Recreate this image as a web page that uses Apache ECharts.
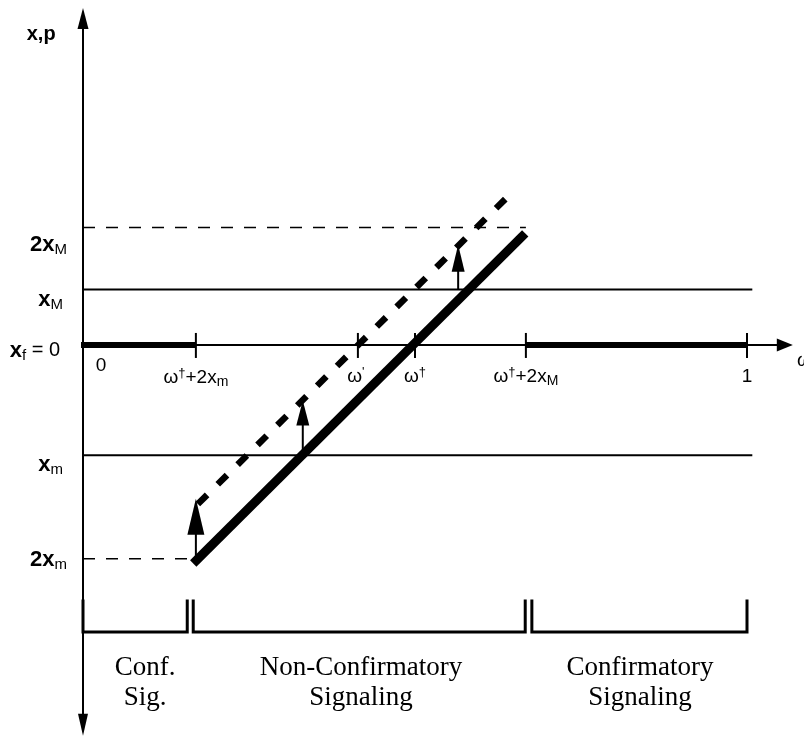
<!DOCTYPE html>
<html><head><meta charset="utf-8">
<script src="https://cdn.jsdelivr.net/npm/echarts@6/dist/echarts.min.js"></script>
<style>html,body{margin:0;padding:0;background:#fff}#c{width:804px;height:741px}</style>
</head><body><div id="c"></div>
<script>
// ---------------- data (schematic units: omega on [0,1], x/p in same units) ----------------
const omegaTicks = [0, 0.170, 0.414, 0.5, 0.667, 1];
const omegaTickLabels = ['{w|0}', '{w|ω}{sup|†}{w|+2x}{sub|m}', "{w|ω}{sup|'}", '{w|ω}{sup|†}', '{w|ω}{sup|†}{w|+2x}{sub|M}', '{w|1}'];
const tickMarks = [0.170, 0.414, 0.5, 0.667, 1];
const levelValues = [0.178, 0.084, 0, -0.167, -0.324];
const levelLabels = ['{b|2x}{s|M}', '{b|x}{s|M}', '{b|x}{s|f}{n| = 0}', '{b|x}{s|m}', '{b|2x}{s|m}'];
const solidLevels = [[0.084, 0, 1.008], [-0.167, 0, 1.008]];      // [level, from, to]
const dashedLevels = [[0.178, 0, 0.667], [-0.324, 0, 0.168]];     // [level, from, to]
const boldAxisSegments = [[-0.003, 0.170], [0.667, 1.0]];
const solidSchedule = [[0.166, -0.331], [0.666, 0.169]];
const shiftedSchedule = [[0.173, -0.241], [0.651, 0.236]];
const shiftArrows = [[0.170, -0.324, -0.233], [0.331, -0.167, -0.084], [0.565, 0.084, 0.152]]; // [omega, from, to]
const axisArrows = [[0, 0, 0, 0.5105], [0, 0, 0, -0.592], [-0.003, 0, 1.069, 0]];
const regimeBounds = [[0, 0.157], [0.166, 0.666], [0.676, 1.0]];
const bracketTop = -0.3855, bracketBottom = -0.435;
const regimeLabels = ['Conf.\nSig.', 'Non-Confirmatory\nSignaling', 'Confirmatory\nSignaling'];
const regimeLabelX = [0.0934, 0.4187, 0.839];
const regimeLabelY = -0.512;
const axisTitleY = 'x,p', axisTitleYPos = [-0.063, 0.471];
const axisTitleX = 'ω', axisTitleXPos = [1.0753, -0.024];

// ---------------- layout / style ----------------
const PX = 664, X0 = 83, Y0 = 347;
const XMIN = 0, XMAX = 1.08, YMIN = -0.6, YMAX = 0.52;
const SANS = '"Liberation Sans", Arial, sans-serif';
const SERIF = '"Liberation Serif", "Times New Roman", serif';
const LEVEL_OFF = [[-16, 17], [-20, 10], [-23, 6], [-20, 10], [-16, 1]];
const TICK_LABEL_OFF = [[18, 21], [0, 33], [-2, 32], [0, 32], [0, 32], [0, 32]];
const SHIFT_HEAD = [[36, 17], [25, 13], [27, 13]];
const AXIS_HEAD = [[21, 11], [22, 10], [16, 13]];

const richTick = {
  w: {fontFamily: SANS, fontSize: 19, fill: '#000', lineHeight: 23},
  sup: {fontFamily: SANS, fontSize: 13, fill: '#000', verticalAlign: 'top', lineHeight: 12},
  sub: {fontFamily: SANS, fontSize: 14, fill: '#000', verticalAlign: 'bottom', lineHeight: 12}
};
const richLevel = {
  b: {fontFamily: SANS, fontSize: 22, fontWeight: 'bold', fill: '#000', lineHeight: 25},
  n: {fontFamily: SANS, fontSize: 20, fill: '#000', lineHeight: 25},
  s: {fontFamily: SANS, fontSize: 15, fill: '#000', verticalAlign: 'bottom', lineHeight: 13}
};

function segSeries(segs, style, z) {
  return {
    type: 'custom', coordinateSystem: 'cartesian2d', silent: true, z: z,
    data: segs,
    renderItem: function (params, api) {
      const p0 = api.coord([api.value(0), api.value(1)]);
      const p1 = api.coord([api.value(2), api.value(3)]);
      return {type: 'line', shape: {x1: p0[0], y1: p0[1], x2: p1[0], y2: p1[1]},
        style: Object.assign({stroke: '#000', fill: null}, style)};
    }
  };
}
function arrowSeries(arrs, heads, lw, z) {
  return {
    type: 'custom', coordinateSystem: 'cartesian2d', silent: true, z: z,
    data: arrs,
    renderItem: function (params, api) {
      const p0 = api.coord([api.value(0), api.value(1)]);
      const p1 = api.coord([api.value(2), api.value(3)]);
      const hl = heads[params.dataIndex][0], hw = heads[params.dataIndex][1];
      const dx = p1[0] - p0[0], dy = p1[1] - p0[1], L = Math.hypot(dx, dy);
      const ux = dx / L, uy = dy / L, nx = -uy, ny = ux;
      const bx = p1[0] - ux * hl, by = p1[1] - uy * hl;
      return {type: 'group', children: [
        {type: 'line', shape: {x1: p0[0], y1: p0[1], x2: bx + ux * 2, y2: by + uy * 2}, style: {stroke: '#000', lineWidth: lw}},
        {type: 'polygon', shape: {points: [[p1[0], p1[1]], [bx + nx * hw / 2, by + ny * hw / 2], [bx - nx * hw / 2, by - ny * hw / 2]]},
          style: {fill: '#000'}}
      ]};
    }
  };
}

const series = [];
series.push(segSeries(solidLevels.map(s => [s[1], s[0], s[2], s[0]]), {lineWidth: 2}, 2));
series.push(segSeries(dashedLevels.map(s => [s[1], s[0], s[2], s[0]]), {lineWidth: 1.6, lineDash: [12, 11]}, 2));
series.push(arrowSeries(axisArrows, AXIS_HEAD, 2, 3));
series.push(segSeries(boldAxisSegments.map(s => [s[0], 0, s[1], 0]), {lineWidth: 6}, 4));
series.push({
  type: 'custom', coordinateSystem: 'cartesian2d', silent: true, z: 4,
  data: tickMarks.map(v => [v, 0]),
  renderItem: function (params, api) {
    const p = api.coord([api.value(0), api.value(1)]);
    return {type: 'line', shape: {x1: p[0], y1: p[1] - 12, x2: p[0], y2: p[1] + 13}, style: {stroke: '#000', lineWidth: 2}};
  }
});
series.push(segSeries([[solidSchedule[0][0], solidSchedule[0][1], solidSchedule[1][0], solidSchedule[1][1]]],
  {lineWidth: 9, lineCap: 'butt'}, 6));
series.push(segSeries([[shiftedSchedule[0][0], shiftedSchedule[0][1], shiftedSchedule[1][0], shiftedSchedule[1][1]]],
  {lineWidth: 6.5, lineDash: [13, 15], lineCap: 'butt'}, 6));
series.push(arrowSeries(shiftArrows.map(a => [a[0], a[1], a[0], a[2]]), SHIFT_HEAD, 2, 7));
series.push({
  type: 'custom', coordinateSystem: 'cartesian2d', silent: true, z: 4,
  data: regimeBounds.map(b => [b[0], b[1]]),
  renderItem: function (params, api) {
    const a = api.coord([api.value(0), bracketTop]);
    const b = api.coord([api.value(1), bracketBottom]);
    return {type: 'polyline', shape: {points: [[a[0], a[1]], [a[0], b[1]], [b[0], b[1]], [b[0], a[1]]]},
      style: {stroke: '#000', lineWidth: 3, fill: null}};
  }
});
series.push({
  type: 'custom', coordinateSystem: 'cartesian2d', silent: true, z: 8,
  data: levelValues.map(v => [0, v]),
  renderItem: function (params, api) {
    const p = api.coord([api.value(0), api.value(1)]);
    const o = LEVEL_OFF[params.dataIndex];
    return {type: 'text', x: p[0] + o[0], y: p[1] + o[1],
      style: {text: levelLabels[params.dataIndex], rich: richLevel, align: 'right', verticalAlign: 'middle', fill: '#000'}};
  }
});
series.push({
  type: 'custom', coordinateSystem: 'cartesian2d', silent: true, z: 8,
  data: omegaTicks.map(v => [v, 0]),
  renderItem: function (params, api) {
    const p = api.coord([api.value(0), api.value(1)]);
    const o = TICK_LABEL_OFF[params.dataIndex];
    return {type: 'text', x: p[0] + o[0], y: p[1] + o[1],
      style: {text: omegaTickLabels[params.dataIndex], rich: richTick, align: 'center', verticalAlign: 'middle', fill: '#000'}};
  }
});
series.push({
  type: 'custom', coordinateSystem: 'cartesian2d', silent: true, z: 8,
  data: regimeLabelX.map(v => [v, regimeLabelY]),
  renderItem: function (params, api) {
    const p = api.coord([api.value(0), api.value(1)]);
    return {type: 'text', x: p[0], y: p[1],
      style: {text: regimeLabels[params.dataIndex], fontFamily: SERIF, fontSize: 27, lineHeight: 30,
        align: 'center', verticalAlign: 'middle', fill: '#000'}};
  }
});
series.push({
  type: 'custom', coordinateSystem: 'cartesian2d', silent: true, z: 8,
  data: [axisTitleYPos, axisTitleXPos],
  renderItem: function (params, api) {
    const p = api.coord([api.value(0), api.value(1)]);
    if (params.dataIndex === 0) {
      return {type: 'text', x: p[0], y: p[1], style: {text: axisTitleY, fontFamily: SANS, fontSize: 20, fontWeight: 'bold',
        align: 'center', verticalAlign: 'middle', fill: '#000'}};
    }
    return {type: 'text', x: p[0], y: p[1], style: {text: axisTitleX, fontFamily: SANS, fontSize: 19,
      align: 'left', verticalAlign: 'middle', fill: '#000'}};
  }
});

const chart = echarts.init(document.getElementById('c'), null, {renderer: 'canvas'});
chart.setOption({
  animation: false,
  backgroundColor: '#fff',
  grid: {left: X0 + XMIN * PX, top: Y0 - YMAX * PX, width: (XMAX - XMIN) * PX, height: (YMAX - YMIN) * PX, containLabel: false},
  xAxis: {type: 'value', min: XMIN, max: XMAX, show: false},
  yAxis: {type: 'value', min: YMIN, max: YMAX, show: false},
  series: series
});
</script></body></html>
